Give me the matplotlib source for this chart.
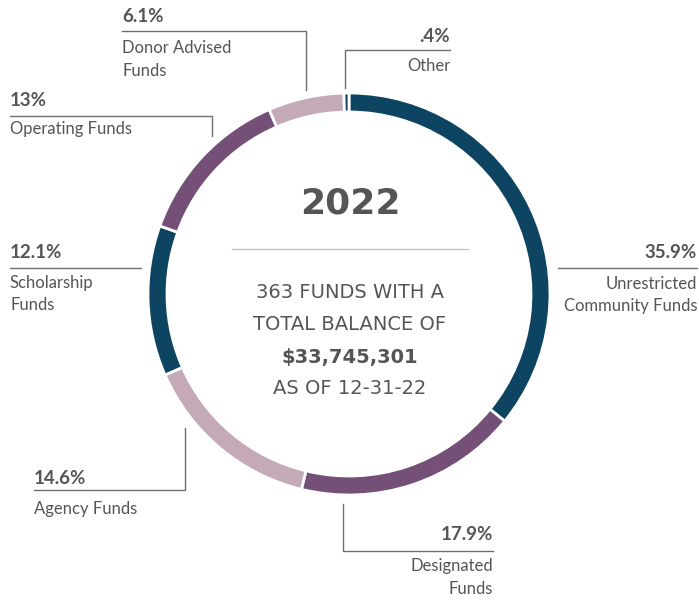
import matplotlib.pyplot as plt

# fund shares, clockwise from the top
names = ["Unrestricted\nCommunity Funds", "Designated\nFunds", "Agency Funds",
         "Scholarship\nFunds", "Operating Funds", "Donor Advised\nFunds", "Other"]
pcts = [35.9, 17.9, 14.6, 12.1, 13.0, 6.1, 0.4]
pct_labels = ["35.9%", "17.9%", "14.6%", "12.1%", "13%", "6.1%", ".4%"]
colors = ["#0d4461", "#744f78", "#c4a9b9", "#0d4461", "#744f78", "#c4a9b9", "#0d4461"]
center_lines = ["363 FUNDS WITH A", "TOTAL BALANCE OF", "$33,745,301", "AS OF 12-31-22"]

H = 602
gray = "#555555"
linec = "#6e6e6e"
plt.rcParams['font.family'] = ['Lato', 'DejaVu Sans']

fig = plt.figure(figsize=(6.99, 6.02), dpi=100)
ax = fig.add_axes([0, 0, 1, 1])

ax.pie(pcts, colors=colors, startangle=90, counterclock=False,
       center=(349, H - 294), radius=201, frame=True,
       wedgeprops=dict(width=19, edgecolor="white", linewidth=2))
ax.set_xlim(0, 699)
ax.set_ylim(0, H)
ax.set_aspect("equal")
ax.axis("off")

def line(xs, ys, c=linec):
    ax.plot(xs, [H - y for y in ys], color=c, lw=1)

def label(x, y1, y2, pct, name, ha):
    ax.text(x, H - y1, pct, ha=ha, va="center", fontsize=13.5, fontweight="bold", color=gray)
    ax.text(x, H - y2, name, ha=ha, va="top", fontsize=12, color=gray, linespacing=1.5)

# leader lines (pixel positions)
line([122, 306, 306], [31, 31, 90])          # donor advised
line([345, 345, 450], [88, 50, 50])          # other
line([10, 212, 212], [116, 116, 136])        # operating
line([10, 141], [268, 268])                  # scholarship
line([558, 697], [268, 268])                 # unrestricted
line([34, 185, 185], [490, 490, 428])        # agency
line([343, 343, 493], [504, 551, 551])       # designated

label(122, 17, 40, pct_labels[5], names[5], "left")
label(450, 37, 58, pct_labels[6], names[6], "right")
label(10, 101, 121, pct_labels[4], names[4], "left")
label(10, 253, 275, pct_labels[3], names[3], "left")
label(697, 253, 276, pct_labels[0], names[0], "right")
label(34, 478, 501, pct_labels[2], names[2], "left")
label(493, 535, 558, pct_labels[1], names[1], "right")

# center text
ax.text(350, H - 204, "2022", ha="center", va="center", fontsize=26,
        fontweight="bold", color=gray, family="DejaVu Sans")
line([232, 468], [249, 249], c="#c4c4cc")
for i, (t, y) in enumerate(zip(center_lines, [293, 325, 357, 388])):
    ax.text(350, H - y, t, ha="center", va="center", fontsize=14,
            fontweight="bold" if i == 2 else "normal", color=gray,
            family="DejaVu Sans")

fig.savefig("out.png", dpi=100, facecolor="white")
